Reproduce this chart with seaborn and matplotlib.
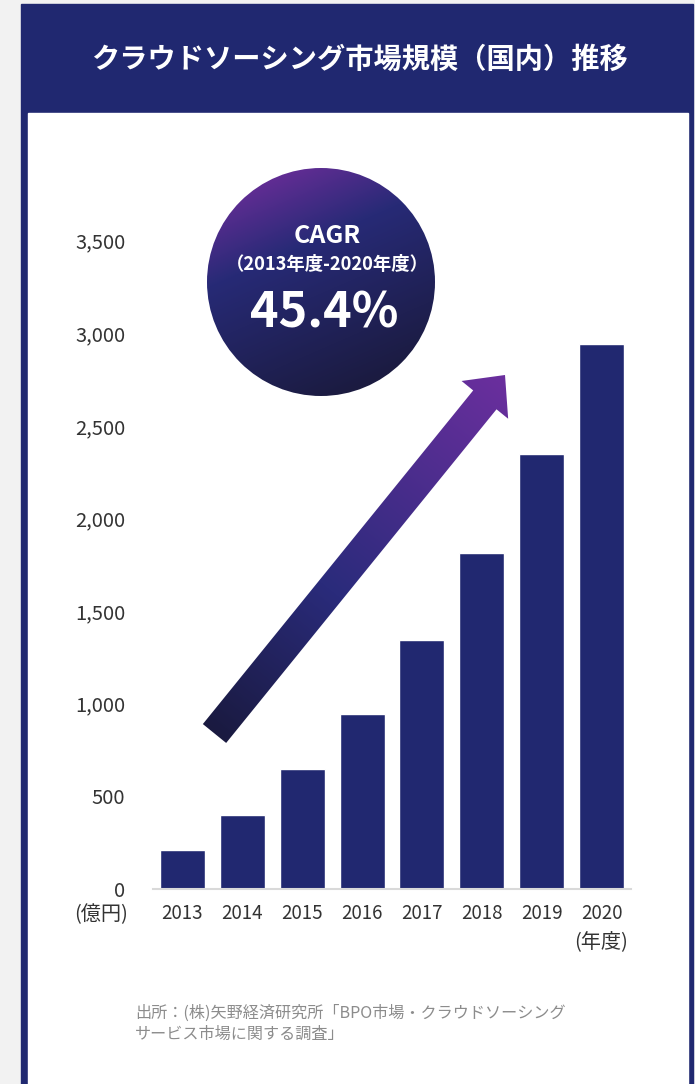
import numpy as np
import matplotlib
matplotlib.use('Agg')
import matplotlib.pyplot as plt
import seaborn as sns
from matplotlib.colors import LinearSegmentedColormap
from matplotlib.patches import Rectangle, Circle, Polygon

# data
years = ['2013', '2014', '2015', '2016', '2017', '2018', '2019', '2020']
market_size = [210, 400, 645, 945, 1345, 1815, 2350, 2940]
y_ticks = [0, 500, 1000, 1500, 2000, 2500, 3000, 3500]

title = 'クラウドソーシング市場規模（国内）推移'
cagr_label = 'CAGR'
cagr_period = '（2013年度-2020年度）'
cagr_value = '45.4%'
y_unit = '(億円)'
x_unit = '(年度)'
source_lines = ['出所：(株)矢野経済研究所「BPO市場・クラウドソーシング',
                'サービス市場に関する調査」']

NAVY = '#202870'
BAR = '#212870'
TEXT = '#333333'

sns.set_theme(style='white')
plt.rcParams['font.family'] = ['Noto Sans CJK JP', 'DejaVu Sans']

W, H = 695, 1084
fig = plt.figure(figsize=(W / 100, H / 100), dpi=100, facecolor='#f2f2f2')

# background layer in pixel coordinates
bg = fig.add_axes([0, 0, 1, 1], zorder=0)
bg.axis('off')
bg.add_patch(Rectangle((21, 4), 672, H, color=NAVY))
bg.add_patch(Rectangle((28, 113), 660, H, color='white'))
bg.text(359, 60, title, color='white', fontsize=20.3, fontweight='bold',
        ha='center', va='center')

# CAGR circle with gradient
cx, cy, r = 321, 282, 114
circle_cmap = LinearSegmentedColormap.from_list(
    'circ', [(0, '#602d93'), (0.32, '#272a76'), (1, '#1b1b40')])
X, Y = np.meshgrid(np.arange(cx - r, cx + r + 1), np.arange(cy - r, cy + r + 1))
t = (((X - cx) * 0.40 + (Y - cy) * 0.92) / r + 1) / 2
im = bg.imshow(t, cmap=circle_cmap, vmin=0, vmax=1, origin='upper',
               extent=(cx - r, cx + r, cy + r, cy - r), zorder=2,
               interpolation='bilinear', aspect='auto')
circ = Circle((cx, cy), r, facecolor='none', edgecolor='none')
bg.add_patch(circ)
im.set_clip_path(circ)

bg.text(cx + 6, 236, cagr_label, color='white', fontsize=18, fontweight='bold',
        ha='center', va='center', zorder=3)
bg.text(cx + 6, 264, cagr_period, color='white', fontsize=13.2, fontweight='bold',
        ha='center', va='center', zorder=3)
bg.text(cx + 3, 313, cagr_value, color='white', fontsize=35, fontweight='bold',
        ha='center', va='center', zorder=3)

# growth arrow with gradient
tail = np.array([214.5, 733.5])
tip = np.array([505.0, 375.0])
length = np.linalg.norm(tip - tail)
u = (tip - tail) / length
n = np.array([-u[1], u[0]])
if n[0] < 0:
    n = -n
head_back = length - 32
local = [(0, -15), (head_back, -15), (head_back, -30), (length, 0),
         (head_back, 30), (head_back, 15), (0, 15)]
pts = [tail + a * u + p * n for a, p in local]
arrow_cmap = LinearSegmentedColormap.from_list(
    'arr', [(0, '#1a1a40'), (0.4, '#2a2b7b'), (1, '#6b2f9e')])
x0, x1 = 195, 515
y0, y1 = 365, 755
AX, AY = np.meshgrid(np.arange(x0, x1 + 1), np.arange(y0, y1 + 1))
ta = ((AX - tail[0]) * u[0] + (AY - tail[1]) * u[1]) / length
im2 = bg.imshow(ta, cmap=arrow_cmap, vmin=0, vmax=1, origin='upper',
                extent=(x0, x1, y1, y0), zorder=2, interpolation='bilinear',
                aspect='auto')
arrow = Polygon(pts, closed=True, facecolor='none', edgecolor='none')
bg.add_patch(arrow)
im2.set_clip_path(arrow)

bg.set_xlim(0, W)
bg.set_ylim(H, 0)

# unit labels and source
bg.text(128, 915, y_unit, color=TEXT, fontsize=14.5, ha='right', va='center')
bg.text(628, 942, x_unit, color=TEXT, fontsize=14.5, ha='right', va='center')
for i, line in enumerate(source_lines):
    bg.text(135, 1013 + i * 21, line, color='#8c8c8c', fontsize=11.6,
            ha='left', va='center')

# bar chart
ax = fig.add_axes([153 / W, 1 - 889 / H, 478 / W, (889 - 222) / H], zorder=1)
ax.patch.set_alpha(0)
sns.barplot(x=years, y=market_size, color=BAR, width=0.75, saturation=1, ax=ax)
ax.set_xlim(-0.49, 7.49)
ax.set_ylim(0, 3600)
ax.set_yticks(y_ticks)
ax.set_yticklabels([f'{v:,}' for v in y_ticks])
for side in ['top', 'right', 'left']:
    ax.spines[side].set_visible(False)
ax.spines['bottom'].set_color('#d9d9d9')
ax.spines['bottom'].set_linewidth(1.5)
ax.tick_params(axis='y', length=0, pad=20, labelsize=14.5, labelcolor=TEXT)
ax.tick_params(axis='x', length=0, pad=10, labelsize=13.5, labelcolor=TEXT)
ax.set_xlabel('')
ax.set_ylabel('')
ax.grid(False)

fig.savefig('out.png', dpi=100, facecolor=fig.get_facecolor())
